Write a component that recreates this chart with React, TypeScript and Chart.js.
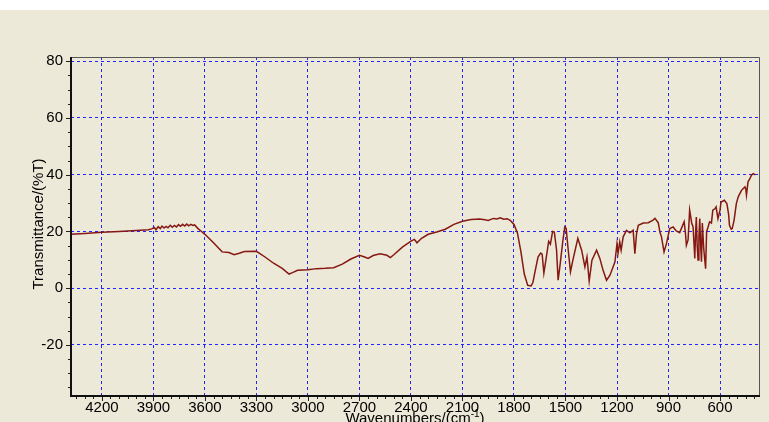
import React, { useEffect, useRef } from "react";
import { Chart, registerables } from "chart.js";

Chart.register(...registerables);

const wavenumbers = [
  4380, 4300, 4200, 4100, 4000, 3930, 3910, 3895, 3885, 3872, 3860, 3850, 3838, 3826, 3815, 3802, 3790, 3778, 3766,
  3754, 3742, 3730, 3718, 3706, 3694, 3682, 3670, 3660,
  3640, 3620, 3600, 3550, 3500, 3460, 3430, 3400, 3370, 3300, 3250, 3200, 3150, 3110, 3090, 3060, 3000, 2950, 2900,
  2850, 2800, 2750, 2700, 2670, 2650, 2620, 2580, 2540, 2520, 2500, 2450, 2400, 2380, 2365, 2340, 2300, 2250, 2200,
  2150, 2100, 2050, 2000, 1970, 1950, 1920, 1900, 1880, 1860, 1840, 1820, 1800, 1780, 1760, 1740, 1720, 1700, 1690,
  1678, 1660, 1645, 1636, 1626, 1612, 1598, 1588, 1575, 1565, 1552, 1543, 1533, 1515, 1504, 1496, 1486, 1471, 1457,
  1428, 1406, 1387, 1375, 1362, 1346, 1319, 1300, 1281, 1261, 1241, 1223, 1212, 1200, 1194, 1184, 1176, 1164, 1145,
  1125, 1106, 1096, 1086, 1076, 1047, 1018, 990, 979, 960, 950, 941, 926, 912, 893, 873, 855, 835, 809, 802, 796, 786,
  777, 765, 757, 750, 747, 742, 738, 733, 728, 723, 718, 713, 708, 703, 695, 684, 678, 670, 661, 650, 642, 630, 623,
  612, 600, 594, 575, 560, 550, 545, 535, 529, 518, 505, 494, 475, 455, 450, 446, 437, 427, 417, 407, 395,
];

const transmittance = [
  19.0, 19.3, 19.7, 20.0, 20.3, 20.6, 20.9, 21.4, 20.6, 21.7, 21.0, 21.9, 21.2, 21.8, 21.3, 22.2, 21.5, 22.1, 21.6,
  22.4, 21.8, 22.5, 21.9, 22.6, 22.0, 22.5, 22.1, 22.3,
  21.0, 20.0, 19.0, 16.0, 12.8, 12.6, 11.8, 12.3, 12.9, 13.0, 11.0, 8.8, 7.0, 5.0, 5.5, 6.3, 6.5, 6.9, 7.0,
  7.2, 8.5, 10.3, 11.6, 11.0, 10.5, 11.5, 12.1, 11.6, 10.8, 11.8, 14.5, 16.6, 17.2, 16.0, 17.5, 19.0, 19.8, 20.8,
  22.5, 23.6, 24.2, 24.4, 24.1, 23.9, 24.6, 24.4, 24.8, 24.3, 24.5, 23.8, 22.5, 19.5, 13.0, 5.0, 1.0, 0.8, 2.0,
  5.7, 11.0, 12.4, 12.0, 5.3, 10.8, 16.5, 15.5, 20.0, 19.8, 13.4, 2.8, 7.5, 16.9, 21.6, 21.0, 14.6, 5.8, 9.9,
  17.6, 13.4, 7.5, 11.0, 2.5, 9.9, 13.4, 10.5, 6.3, 2.8, 4.6, 7.5, 9.3, 15.7, 12.3, 16.3, 13.4, 18.1, 20.4,
  19.5, 20.4, 12.2, 19.3, 22.2, 23.0, 23.1, 24.0, 24.6, 23.1, 19.8, 18.1, 12.8, 15.7, 21.0, 21.6, 20.2, 19.6, 23.4, 19.8, 15.1, 17.0,
  27.5, 23.0, 21.6, 14.0, 10.5, 20.0, 25.1, 15.0, 9.9, 18.0, 24.6, 15.0, 9.3, 23.0, 14.0, 6.9, 20.0, 21.5, 23.4, 23.0, 27.5, 28.0, 28.7,
  24.5, 27.5, 30.4, 31.0, 29.8, 26.0, 22.2, 20.8, 21.0, 24.0, 29.8, 32.2, 34.5, 35.7, 35.0, 32.8, 37.5, 38.5, 39.8, 40.4, 40.0,
];

const xTickValues = [4200, 3900, 3600, 3300, 3000, 2700, 2400, 2100, 1800, 1500, 1200, 900, 600];
const yTickValues = [-20, 0, 20, 40, 60, 80];
const xRange = [373, 4380];
const yRange = [-38, 81.5];
const yTitle = "Transmittance/(%T)";
const xTitleMain = "Wavenumbers/(cm";
const xTitleSup = "-1";
const xTitleEnd = ")";

const FONT = '"Liberation Sans", Arial, sans-serif';
const BG = "#ECE9D8";

const decorPlugin = {
  id: "decor",
  beforeDraw(chart: any) {
    const ctx = chart.ctx;
    ctx.save();
    ctx.fillStyle = BG;
    ctx.fillRect(0, 0, chart.width, chart.height);
    ctx.fillStyle = "#ffffff";
    ctx.fillRect(0, 0, chart.width, 10);
    ctx.restore();
  },
  afterDraw(chart: any) {
    const ctx = chart.ctx;
    const { left, right, top, bottom } = chart.chartArea;
    const xs = chart.scales.x;
    const ys = chart.scales.y;
    ctx.save();
    // frame
    ctx.strokeStyle = "#555555";
    ctx.lineWidth = 1;
    ctx.beginPath();
    ctx.moveTo(left, top + 0.5);
    ctx.lineTo(right + 0.5, top + 0.5);
    ctx.lineTo(right + 0.5, bottom);
    ctx.stroke();
    ctx.strokeStyle = "#111111";
    ctx.lineWidth = 2;
    ctx.beginPath();
    ctx.moveTo(left, top);
    ctx.lineTo(left, bottom);
    ctx.lineTo(right + 1, bottom);
    ctx.stroke();
    // ticks
    ctx.lineWidth = 1;
    ctx.strokeStyle = "#222222";
    ctx.beginPath();
    for (let v = 400; v <= 4380; v += 50) {
      const px = Math.round(xs.getPixelForValue(v)) + 0.5;
      const major = xTickValues.includes(v);
      ctx.moveTo(px, bottom + 1);
      ctx.lineTo(px, bottom + (major ? 5 : 3));
    }
    for (let v = -35; v <= 80; v += 5) {
      const py = Math.round(ys.getPixelForValue(v)) + 0.5;
      const major = yTickValues.includes(v);
      ctx.moveTo(left - 1, py);
      ctx.lineTo(left - (major ? 5 : 3), py);
    }
    ctx.stroke();
    // titles
    ctx.fillStyle = "#000000";
    ctx.font = `15px ${FONT}`;
    ctx.save();
    ctx.translate(39, 224);
    ctx.rotate(-Math.PI / 2);
    ctx.textAlign = "center";
    ctx.textBaseline = "middle";
    ctx.fillText(yTitle, 0, 0);
    ctx.restore();
    ctx.textAlign = "left";
    ctx.textBaseline = "alphabetic";
    const wMain = ctx.measureText(xTitleMain).width;
    ctx.font = `10px ${FONT}`;
    const wSup = ctx.measureText(xTitleSup).width;
    ctx.font = `15px ${FONT}`;
    const wEnd = ctx.measureText(xTitleEnd).width;
    const total = wMain + wSup + wEnd;
    let x0 = 415 - total / 2;
    const base = 423;
    ctx.fillText(xTitleMain, x0, base);
    x0 += wMain;
    ctx.font = `10px ${FONT}`;
    ctx.fillText(xTitleSup, x0, base - 6);
    x0 += wSup;
    ctx.font = `15px ${FONT}`;
    ctx.fillText(xTitleEnd, x0, base);
    ctx.restore();
  },
};

export default function App() {
  const ref = useRef<HTMLCanvasElement | null>(null);
  useEffect(() => {
    if (!ref.current) return;
    const points = wavenumbers.map((w, i) => ({ x: w, y: transmittance[i] }));
    const gridCommon = {
      display: true,
      color: "#2424ff",
      lineWidth: 1,
      drawTicks: false,
    };
    const chart = new Chart(ref.current, {
      type: "line",
      data: {
        datasets: [
          {
            data: points,
            borderColor: "#861812",
            borderWidth: 1.5,
            pointRadius: 0,
            tension: 0,
            fill: false,
          },
        ],
      },
      options: {
        animation: false,
        responsive: false,
        devicePixelRatio: 1,
        layout: { padding: { top: 57, right: 10, left: 0, bottom: 0 } },
        plugins: { legend: { display: false }, tooltip: { enabled: false }, title: { display: false } },
        scales: {
          x: {
            type: "linear",
            reverse: true,
            min: xRange[0],
            max: xRange[1],
            afterBuildTicks: (s: any) => {
              s.ticks = xTickValues.map((v) => ({ value: v }));
            },
            afterFit: (s: any) => {
              s.height = 26;
            },
            grid: gridCommon,
            border: { display: false, dash: [3, 3] },
            ticks: {
              autoSkip: false,
              maxRotation: 0,
              padding: 3,
              color: "#000000",
              font: { size: 15, family: FONT },
              callback: (v: any) => String(v),
            },
          },
          y: {
            type: "linear",
            min: yRange[0],
            max: yRange[1],
            afterBuildTicks: (s: any) => {
              s.ticks = yTickValues.map((v) => ({ value: v }));
            },
            afterFit: (s: any) => {
              s.width = 71;
            },
            grid: gridCommon,
            border: { display: false, dash: [3, 3] },
            ticks: {
              padding: 8,
              color: "#000000",
              font: { size: 15, family: FONT },
              callback: (v: any) => String(v),
            },
          },
        },
      },
      plugins: [decorPlugin],
    } as any);
    return () => chart.destroy();
  }, []);
  return (
    <div style={{ position: "fixed", left: 0, top: 0, width: 769, height: 422 }}>
      <canvas ref={ref} width={769} height={422} style={{ display: "block" }} />
    </div>
  );
}
